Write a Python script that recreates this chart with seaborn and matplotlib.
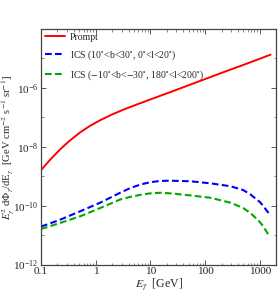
import matplotlib
matplotlib.use("Agg")
import matplotlib.pyplot as plt
import matplotlib.ticker as mticker
import seaborn as sns
import pandas as pd

# --- values: energy [GeV] and log10 of the flux ---
prompt_E = [0.1, 0.15, 0.22, 0.33, 0.52, 0.8, 1.2, 2, 3.5, 6.3, 11.5, 25, 50, 100, 200, 500, 1000, 1580]
prompt_log = [-8.79, -8.42, -8.10, -7.80, -7.51, -7.28, -7.10, -6.90, -6.71, -6.53, -6.35, -6.12, -5.91, -5.70, -5.49, -5.22, -5.01, -4.87]

ics1_E = [0.1, 0.22, 0.52, 1.2, 2.8, 4.3, 6.6, 10, 15, 23, 54, 126, 295, 500, 680, 1000, 1170, 1580]
ics1_log = [-10.71, -10.48, -10.19, -9.90, -9.56, -9.40, -9.28, -9.20, -9.16, -9.15, -9.17, -9.24, -9.34, -9.47, -9.62, -9.87, -10.02, -10.34]

ics2_E = [0.1, 0.22, 0.52, 1.2, 2.8, 4.3, 6.6, 10, 15, 23, 54, 126, 295, 500, 680, 1000, 1170, 1460]
ics2_log = [-10.79, -10.59, -10.36, -10.08, -9.79, -9.70, -9.63, -9.58, -9.56, -9.58, -9.65, -9.73, -9.90, -10.08, -10.25, -10.55, -10.71, -11.0]

labels = ["Prompt",
          r"ICS (10$^{\circ}$<b<30$^{\circ}$, 0$^{\circ}$<l<20$^{\circ}$)",
          r"ICS ($-$10$^{\circ}$<b<$-$30$^{\circ}$, 180$^{\circ}$<l<200$^{\circ}$)"]
colors = ["#ff0000", "#0000ff", "#00a800"]
styles = ["-", (0, (3.2, 1.6)), (0, (3.2, 1.6))]
widths = [1.4, 1.5, 1.5]

sns.set_style("ticks")
plt.rcParams["font.family"] = ["Liberation Serif", "DejaVu Serif"]
plt.rcParams["mathtext.fontset"] = "stix"

fig = plt.figure(figsize=(2.78, 2.96), dpi=100)
ax = fig.add_axes([0.1475, 0.106, 0.846, 0.796])

for E, ylog, lab, c, ls, lw in zip([prompt_E, ics1_E, ics2_E],
                                   [prompt_log, ics1_log, ics2_log],
                                   labels, colors, styles, widths):
    df = pd.DataFrame({"E": E, "F": [10 ** v for v in ylog]})
    sns.lineplot(data=df, x="E", y="F", ax=ax, color=c, lw=lw,
                 linestyle=ls, label=lab)

ax.set_xscale("log")
ax.set_yscale("log")
ax.set_xlim(0.1, 2000)
ax.set_ylim(1e-12, 1e-4)
ax.yaxis.set_major_locator(mticker.FixedLocator([1e-12, 1e-10, 1e-8, 1e-6]))
ax.yaxis.set_major_formatter(mticker.LogFormatterSciNotation())
ax.yaxis.set_minor_locator(mticker.FixedLocator([1e-11, 1e-9, 1e-7, 1e-5]))
ax.yaxis.set_minor_formatter(mticker.NullFormatter())
ax.xaxis.set_major_locator(mticker.FixedLocator([0.1, 1, 10, 100, 1000]))
ax.xaxis.set_major_formatter(mticker.FixedFormatter(["0.1", "1", "10", "100", "1000"]))
ax.xaxis.set_minor_formatter(mticker.NullFormatter())
ax.tick_params(which="both", direction="in", top=True, right=True,
               labelsize=8.2, pad=1.5, color="#555555")
ax.tick_params(which="major", length=3.5, width=0.7)
ax.tick_params(which="minor", length=1.8, width=0.5)
for s in ax.spines.values():
    s.set_color("#444444")
    s.set_linewidth(0.9)

ax.set_xlabel(r"$E_\gamma$  [GeV]", fontsize=8.5, labelpad=1)
ax.set_ylabel("")
fig.text(8 / 278, 1 - 147 / 296,
         r"$E_\gamma^{2}$ d$\Phi_\gamma$/dE$_\gamma$  [GeV cm$^{-2}$ s$^{-1}$ sr$^{-1}$]",
         fontsize=7.7, rotation=90, ha="center", va="center")

ax.legend(loc="upper left", frameon=False, fontsize=7, handlelength=2.1,
          handletextpad=0.5, labelspacing=0.65, borderaxespad=0.15,
          borderpad=0.25)

fig.savefig("out.png", dpi=100)
